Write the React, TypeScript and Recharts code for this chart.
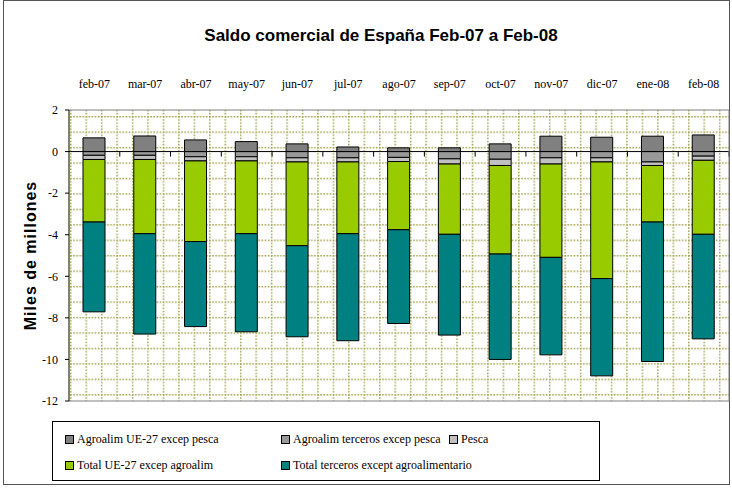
import React from 'react'
import { BarChart, Bar, XAxis, YAxis, CartesianGrid, ReferenceLine } from 'recharts'

// meses del periodo
const months = ['feb-07', 'mar-07', 'abr-07', 'may-07', 'jun-07', 'jul-07', 'ago-07', 'sep-07', 'oct-07', 'nov-07', 'dic-07', 'ene-08', 'feb-08']

// miles de millones de euros
const agroUE = [0.66, 0.75, 0.56, 0.48, 0.37, 0.22, 0.18, 0.18, 0.37, 0.74, 0.69, 0.74, 0.8]
const agroTerceros = [-0.18, -0.18, -0.25, -0.25, -0.3, -0.3, -0.28, -0.35, -0.37, -0.3, -0.3, -0.5, -0.22]
const pesca = [-0.2, -0.2, -0.2, -0.2, -0.2, -0.2, -0.2, -0.25, -0.3, -0.3, -0.2, -0.17, -0.2]
const totalUE = [-3.01, -3.57, -3.88, -3.5, -4.03, -3.45, -3.28, -3.38, -4.26, -4.49, -5.61, -2.72, -3.56]
const totalTerceros = [-4.32, -4.83, -4.09, -4.72, -4.38, -5.15, -4.51, -4.85, -5.07, -4.69, -4.68, -6.71, -5.03]

const yTicks = [2, 0, -2, -4, -6, -8, -10, -12]

const series = [
  { key: 'agroUE', name: 'Agroalim UE-27 excep pesca', color: '#808080', values: agroUE },
  { key: 'agroTerceros', name: 'Agroalim terceros excep pesca', color: '#999999', values: agroTerceros },
  { key: 'pesca', name: 'Pesca', color: '#c0c0c0', values: pesca },
  { key: 'totalUE', name: 'Total UE-27 excep agroalim', color: '#99cc00', values: totalUE },
  { key: 'totalTerceros', name: 'Total terceros except agroalimentario', color: '#008080', values: totalTerceros },
]

const data = months.map((m, i) => {
  const row: any = { month: m }
  series.forEach(s => { row[s.key] = s.values[i] })
  return row
})

const serif = 'Liberation Serif, Times, DejaVu Serif, serif'
const sans = 'Liberation Sans, Arial, sans-serif'

// linea del cero con las marcas entre categorias
const ZeroLine = (p: any) => {
  const step = (p.x2 - p.x1) / months.length
  return (
    <g>
      <line x1={p.x1} y1={p.y1} x2={p.x2} y2={p.y2} stroke="#000" strokeWidth={1} />
      {months.map((_, i) => (
        <line key={i} x1={p.x1 + step * (i + 1)} x2={p.x1 + step * (i + 1)} y1={p.y1} y2={p.y1 + 5} stroke="#000" strokeWidth={1} />
      ))}
    </g>
  )
}

const LegendItem = ({ s }: any) => (
  <div style={{ display: 'flex', alignItems: 'center', whiteSpace: 'nowrap' }}>
    <span style={{ flex: '0 0 auto', width: 7, height: 7, background: s.color, border: '1px solid #000', marginRight: 3, display: 'inline-block' }} />
    <span>{s.name}</span>
  </div>
)

export default function App() {
  return (
    <div style={{ position: 'relative', width: 732, height: 488, background: '#fff', overflow: 'hidden' }}>
      <style>{`body{margin:0}`}</style>
      <div style={{ position: 'absolute', left: 3, top: 0, width: 727, height: 485, border: '1px solid #555', boxSizing: 'border-box' }} />
      <div style={{ position: 'absolute', left: 0, width: 762, top: 26, textAlign: 'center', fontFamily: sans, fontWeight: 'bold', fontSize: 17 }}>
        Saldo comercial de España Feb-07 a Feb-08
      </div>
      <BarChart
        width={732}
        height={488}
        data={data}
        stackOffset="sign"
        margin={{ top: 70, right: 0, bottom: 87, left: 0 }}
        barSize={22}
        style={{ position: 'absolute', left: 0, top: 0 }}
      >
        <defs>
          <pattern id="dots" patternUnits="userSpaceOnUse" x={70} y={116} width={15.45} height={15.45}>
            <line x1={0} y1={0.5} x2={15.45} y2={0.5} stroke="#a0a048" strokeWidth={2} strokeDasharray="1.6 1.5" />
            <line x1={0.5} y1={0} x2={0.5} y2={15.45} stroke="#a0a048" strokeWidth={2} strokeDasharray="1.6 1.5" />
          </pattern>
        </defs>
        <CartesianGrid horizontal={false} vertical={false} fill="url(#dots)" />
        <XAxis
          dataKey="month"
          orientation="top"
          height={40}
          axisLine={false}
          tickLine={false}
          tickSize={0}
          tickMargin={22}
          interval={0}
          tick={{ fill: '#000', fontSize: 12, fontFamily: serif }}
        />
        <YAxis
          width={69}
          domain={[-12, 2]}
          ticks={yTicks}
          interval={0}
          tickSize={4}
          tickMargin={7}
          axisLine={{ stroke: '#000' }}
          tickLine={{ stroke: '#000' }}
          tick={{ fill: '#000', fontSize: 12, fontFamily: serif }}
          label={{
            content: (p: any) => (
              <text
                x={p.viewBox.x + 30}
                y={p.viewBox.y + p.viewBox.height / 2}
                transform={`rotate(-90 ${p.viewBox.x + 30} ${p.viewBox.y + p.viewBox.height / 2})`}
                textAnchor="middle"
                dominantBaseline="central"
                fontFamily={sans}
                fontWeight="bold"
                fontSize={16}
                letterSpacing={1}
              >
                Miles de millones
              </text>
            ),
          }}
        />
        <YAxis yAxisId="right" orientation="right" width={3} domain={[-12, 2]} tick={false} tickLine={false} axisLine={{ stroke: '#808080' }} />
        <ReferenceLine y={2} stroke="#808080" />
        <ReferenceLine y={-12} stroke="#808080" />
        {series.map(s => (
          <Bar key={s.key} dataKey={s.key} name={s.name} stackId="a" fill={s.color} stroke="#000" strokeWidth={1} isAnimationActive={false} />
        ))}
        <ReferenceLine y={0} shape={ZeroLine} />
      </BarChart>
      <div
        style={{
          position: 'absolute', left: 52, top: 421, width: 548, height: 60, border: '1px solid #000', boxSizing: 'border-box',
          fontFamily: serif, fontSize: 12, display: 'grid', gridTemplateColumns: '216px 168px 1fr', gridTemplateRows: '26px 26px',
          padding: '4px 0 0 12px', alignItems: 'center',
        }}
      >
        {series.map(s => <LegendItem key={s.key} s={s} />)}
      </div>
    </div>
  )
}
